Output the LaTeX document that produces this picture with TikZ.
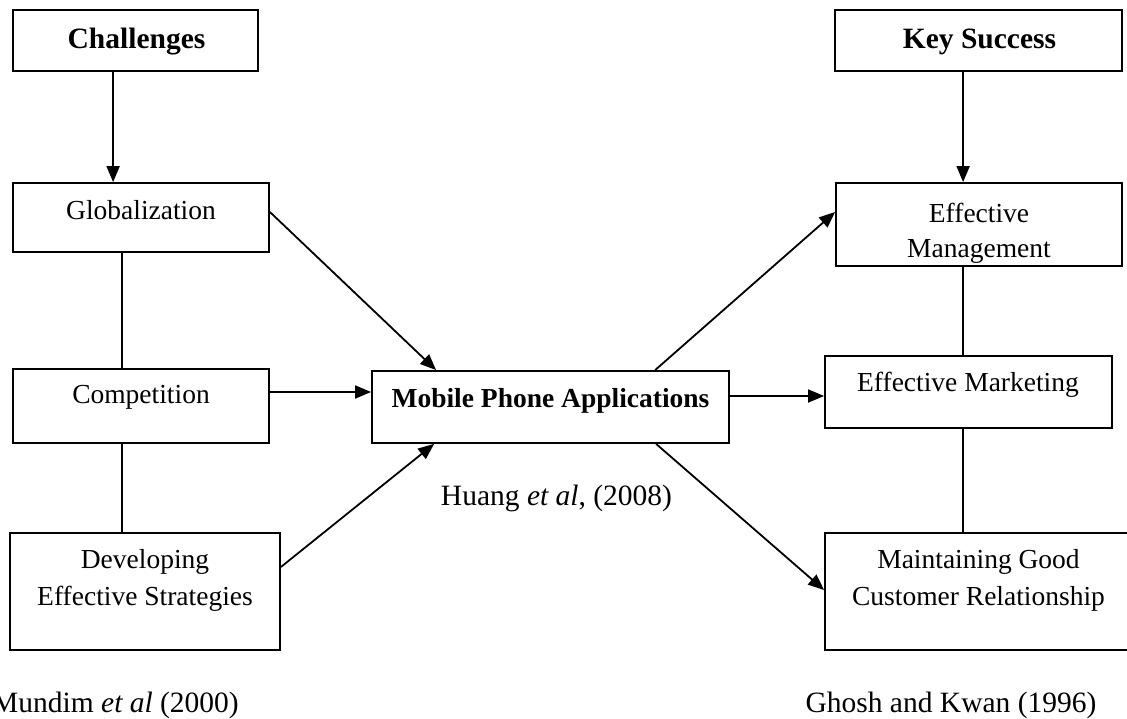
\documentclass[tikz,border=0pt]{standalone}
\usepackage{fontspec}
\setmainfont{Liberation Serif}
\usetikzlibrary{arrows.meta,calc}
\begin{document}
\begin{tikzpicture}[x=1pt,y=-1pt,
  box/.style={draw,line width=1.8pt,inner sep=0pt,rectangle},
  lbl/.style={anchor=base,inner sep=0pt,font=\fontsize{27.5}{33}\selectfont},
  hdr/.style={anchor=base,inner sep=0pt,font=\fontsize{29.5}{35}\selectfont\bfseries},
  cite/.style={anchor=base,inner sep=0pt,font=\fontsize{29.5}{35}\selectfont},
  conn/.style={line width=1.8pt},
  arr/.style={line width=1.8pt,-{Triangle[length=16pt,width=13pt]}}]
\useasboundingbox (0,0) rectangle (1127,719);
\clip (0,0) rectangle (1127,719);
% boxes
\node[box,minimum width=245,minimum height=61] (chal) at (135.5,40.5) {};
\node[box,minimum width=287,minimum height=61] (key) at (978.5,40.5) {};
\node[box,minimum width=256,minimum height=69] (glob) at (141,217.5) {};
\node[box,minimum width=256,minimum height=74] (comp) at (141,406) {};
\node[box,minimum width=270,minimum height=117] (dev) at (145,591.5) {};
\node[box,minimum width=357,minimum height=72] (mob) at (550.5,407) {};
\node[box,minimum width=286,minimum height=83] (mgmt) at (979,224.5) {};
\node[box,minimum width=287,minimum height=72] (mkt) at (968.5,392) {};
\node[box,minimum width=307,minimum height=117] (maint) at (978.5,591.5) {};
% texts
\node[hdr] (tchal) at (136.5,49) {Challenges};
\node[hdr] (tkey) at (979.5,49) {Key Success};
\node[lbl] (tglob) at (141,220) {Globalization};
\node[lbl] (tcomp) at (141,403) {Competition};
\node[lbl] (tdev1) at (145,568) {Developing};
\node[lbl] (tdev2) at (145,605) {Effective Strategies};
\node[lbl,font=\fontsize{27.5}{33}\selectfont\bfseries] (tmob) at (550.5,407) {Mobile Phone Applications};
\node[cite] (thuang) at (556.5,505) {Huang \textit{et al}, (2008)};
\node[lbl] (tmgmt1) at (979,223) {Effective};
\node[lbl] (tmgmt2) at (979,258) {Management};
\node[lbl] (tmkt) at (968,391) {Effective Marketing};
\node[lbl] (tmaint1) at (978.5,568) {Maintaining Good};
\node[lbl] (tmaint2) at (978.5,605) {Customer Relationship};
\node[cite,anchor=base east] (tmundim) at (239,712) {Mundim \textit{et al} (2000)};
\node[cite] (tghosh) at (951,712) {Ghosh and Kwan (1996)};
% connectors
\draw[arr] ($(chal.south west)+(101,0)$) -- ($(glob.north west)+(101,0)$);
\draw[arr] ($(key.south west)+(129,0)$) -- ($(mgmt.north west)+(128,0)$);
\draw[conn] ($(glob.south west)+(110,0)$) -- ($(comp.north west)+(110,0)$);
\draw[conn] ($(comp.south west)+(110,0)$) -- ($(dev.north west)+(113,0)$);
\draw[conn] ($(mgmt.south west)+(128,0)$) -- ($(mkt.north west)+(139,0)$);
\draw[conn] ($(mkt.south west)+(139,0)$) -- ($(maint.north west)+(139,0)$);
\draw[arr] ($(glob.east)+(0,-5.5)$) -- ($(mob.north west)+(65,0)$);
\draw[arr] ($(comp.east)+(0,-14)$) -- ($(mob.west)+(0,-15)$);
\draw[arr] ($(dev.east)+(0,-24.5)$) -- ($(mob.south west)+(63,0)$);
\draw[arr] ($(mob.north west)+(284,0)$) -- ($(mgmt.west)+(0,-12.5)$);
\draw[arr] ($(mob.east)+(0,-11)$) -- ($(mkt.west)+(0,4)$);
\draw[arr] ($(mob.south west)+(285,0)$) -- ($(maint.west)+(0,-1.5)$);
\end{tikzpicture}
\end{document}
